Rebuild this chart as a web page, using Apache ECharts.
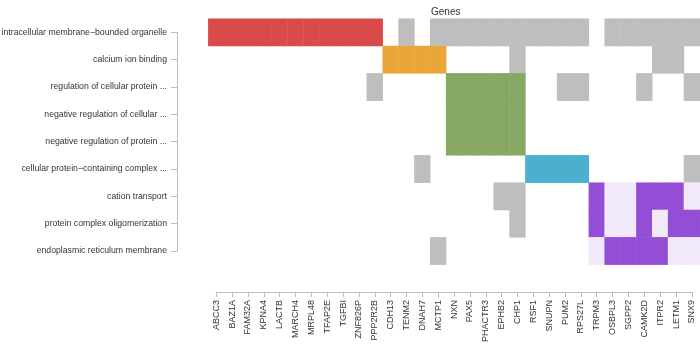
<!DOCTYPE html>
<html>
<head>
<meta charset="utf-8">
<script src="https://cdn.jsdelivr.net/npm/echarts@6/dist/echarts.min.js"></script>
<style>html,body{margin:0;padding:0;background:#fff;}#c{width:700px;height:344px;}</style>
</head>
<body>
<div id="c"></div>
<script>
const genes = ["ABCC3","BAZ1A","FAM32A","KPNA4","LACTB","MARCH4","MRPL48","TFAP2E","TGFBI","ZNF826P","PPP2R2B","CDH13","TENM2","DNAH7","MCTP1","NXN","PAX5","PHACTR3","EPHB2","CHP1","RSF1","SNUPN","PUM2","RPS27L","TRPM3","OSBPL3","SGPP2","CAMK2D","ITPR2","LETM1","SNX9"];
const terms = ["intracellular membrane\u2212bounded organelle","calcium ion binding","regulation of cellular protein ...","negative regulation of cellular ...","negative regulation of protein ...","cellular protein\u2212containing complex ...","cation transport","protein complex oligomerization","endoplasmic reticulum membrane"];
// codes: 0 none, 1 other term (grey), 2..6 cluster colours, 7 cluster member not in term
const row0 = [2,2,2,2,2,2,2,2,2,2,2,0,1,0,1,1,1,1,1,1,1,1,1,1,0,1,1,1,1,1,1];
const row1 = [0,0,0,0,0,0,0,0,0,0,0,3,3,3,3,0,0,0,0,1,0,0,0,0,0,0,0,0,1,1,0];
const row2 = [0,0,0,0,0,0,0,0,0,0,1,0,0,0,0,4,4,4,4,4,0,0,1,1,0,0,0,1,0,0,1];
const row3 = [0,0,0,0,0,0,0,0,0,0,0,0,0,0,0,4,4,4,4,4,0,0,0,0,0,0,0,0,0,0,0];
const row4 = [0,0,0,0,0,0,0,0,0,0,0,0,0,0,0,4,4,4,4,4,0,0,0,0,0,0,0,0,0,0,0];
const row5 = [0,0,0,0,0,0,0,0,0,0,0,0,0,1,0,0,0,0,0,0,5,5,5,5,0,0,0,0,0,0,1];
const row6 = [0,0,0,0,0,0,0,0,0,0,0,0,0,0,0,0,0,0,1,1,0,0,0,0,6,7,7,6,6,6,7];
const row7 = [0,0,0,0,0,0,0,0,0,0,0,0,0,0,0,0,0,0,0,1,0,0,0,0,6,7,7,6,7,6,6];
const row8 = [0,0,0,0,0,0,0,0,0,0,0,0,0,0,1,0,0,0,0,0,0,0,0,0,7,6,6,6,6,7,7];
const rows = [row0,row1,row2,row3,row4,row5,row6,row7,row8];

const data = [];
rows.forEach((r, yi) => r.forEach((v, xi) => { if (v) data.push([xi, yi, v]); }));

const cw = 15.855, rh = 27.33, gl = 208.3, gt = 18.7;
const chart = echarts.init(document.getElementById('c'), null, {renderer: 'canvas'});
const axisGrey = '#bdbdbd';
const txt = '#333';
chart.setOption({
  animation: false,
  backgroundColor: '#fff',
  textStyle: {fontFamily: 'Liberation Sans, Arial, sans-serif'},
  title: {text: 'Genes', left: 431, top: 7, padding: 0,
    textStyle: {fontSize: 10, fontWeight: 'normal', color: txt, fontFamily: 'Liberation Sans'}},
  grid: [
    {left: gl, top: gt, width: cw * 31, height: rh * 9, outerBoundsMode: 'none', containLabel: false},
    {left: gl + cw / 2, top: gt + rh / 2, width: cw * 30, height: rh * 8, outerBoundsMode: 'none', containLabel: false}
  ],
  xAxis: [
    {type: 'category', gridIndex: 0, data: genes, show: false},
    {type: 'category', gridIndex: 1, data: genes, boundaryGap: false, position: 'bottom',
      offset: 292 - (gt + rh / 2 + rh * 8),
      axisLine: {show: true, lineStyle: {color: axisGrey, width: 1}},
      axisTick: {show: true, length: 5, inside: false, alignWithLabel: true, lineStyle: {color: axisGrey}},
      splitLine: {show: false},
      axisLabel: {rotate: 90, interval: 0, margin: 8, fontSize: 9, color: txt, fontFamily: 'Liberation Sans'}}
  ],
  yAxis: [
    {type: 'category', gridIndex: 0, data: terms, inverse: true, show: false},
    {type: 'category', gridIndex: 1, data: terms, inverse: true, boundaryGap: false,
      offset: gl + cw / 2 - 177,
      axisLine: {show: true, lineStyle: {color: axisGrey, width: 1}},
      axisTick: {show: true, length: 6, lineStyle: {color: axisGrey}},
      splitLine: {show: false},
      axisLabel: {interval: 0, margin: 10, fontSize: 8.7, color: txt, fontFamily: 'Liberation Sans'}}
  ],
  visualMap: {
    type: 'piecewise', show: false, dimension: 2, seriesIndex: 0,
    pieces: [
      {value: 1, color: '#BEBEBE'},
      {value: 2, color: '#D94B48'},
      {value: 3, color: '#EBA63A'},
      {value: 4, color: '#87A862'},
      {value: 5, color: '#4BB0CE'},
      {value: 6, color: '#944ED6'},
      {value: 7, color: '#F1E8FA'}
    ]
  },
  series: [{
    type: 'heatmap', xAxisIndex: 0, yAxisIndex: 0, data: data,
    itemStyle: {borderColor: 'rgba(255,255,255,0.05)', borderWidth: 0.6},
    emphasis: {disabled: true}
  }]
});
</script>
</body>
</html>
